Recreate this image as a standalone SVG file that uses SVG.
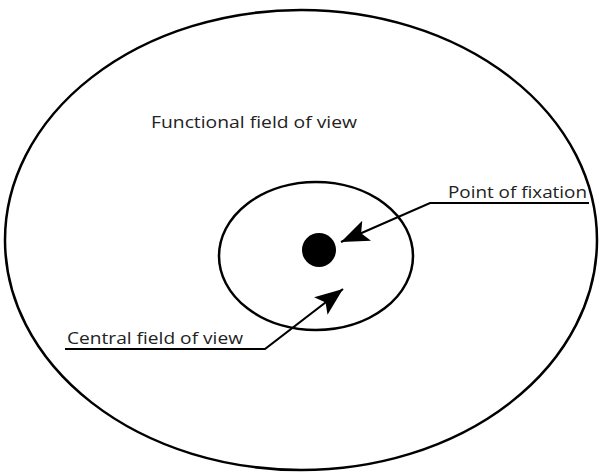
<svg xmlns="http://www.w3.org/2000/svg" width="600" height="475" viewBox="0 0 600 475">
<style>
.ring{fill:none;stroke:#000;stroke-width:2.5}
.lead{fill:none;stroke:#000;stroke-width:2.2}
.lbl{font-family:"Open Sans","Liberation Sans",sans-serif;font-size:17px;fill:#222}
</style>
<defs>
<marker id="ah" markerUnits="userSpaceOnUse" markerWidth="30" markerHeight="24" refX="28" refY="12" orient="auto">
<path d="M0,1 L28,12 L0,23 L6,12 Z" fill="#000"/>
</marker>
</defs>
<rect width="600" height="475" fill="#fff"/>
<g id="functional-field">
<ellipse class="ring" cx="301" cy="240" rx="296" ry="230"/>
<text class="lbl" x="151" y="128" textLength="206" lengthAdjust="spacingAndGlyphs">Functional field of view</text>
</g>
<g id="central-field">
<ellipse class="ring" cx="316" cy="256" rx="97" ry="74"/>
</g>
<g id="fixation-point">
<circle cx="319" cy="250" r="17" fill="#000"/>
</g>
<g id="label-fixation">
<text class="lbl" x="448" y="198" textLength="139" lengthAdjust="spacingAndGlyphs">Point of fixation</text>
</g>
<g id="label-central">
<text class="lbl" x="67" y="344" textLength="176" lengthAdjust="spacingAndGlyphs">Central field of view</text>
</g>
<g id="connectors">
<polyline class="lead" points="589,203 430,203 341,242" marker-end="url(#ah)"/>
<polyline class="lead" points="65,349 265,349 343,289" marker-end="url(#ah)"/>
</g>
</svg>
